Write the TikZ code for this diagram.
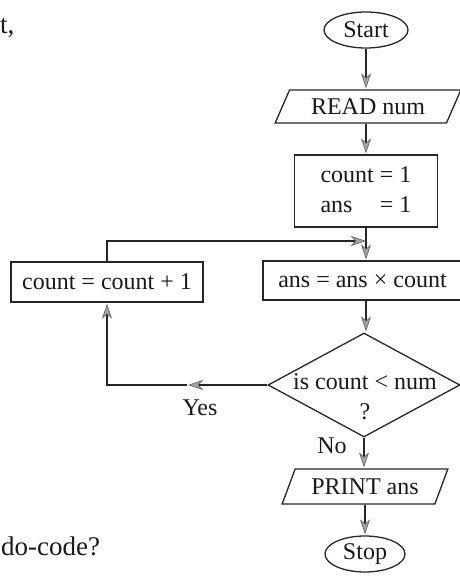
\documentclass[tikz,border=0pt]{standalone}
\usepackage{fontspec}
\setmainfont{Liberation Serif}
\usetikzlibrary{shapes.geometric,arrows.meta}
\begin{document}
\begin{tikzpicture}[x=1pt,y=-1pt,
  txt/.style={font=\fontsize{24}{30}\selectfont, text=black!90},
  flow/.style={draw=black!85, line width=1.3pt, shorten >=1pt,
    -{Stealth[length=15pt,width=10pt,inset=4.5pt,fill=gray!70,color=black!60,line width=0.7pt]}},
  box/.style={draw=black!85, line width=1.3pt, rectangle, inner sep=0pt, txt},
  term/.style={draw=black!85, line width=1.3pt, ellipse, inner sep=0pt, txt},
  io/.style={draw=black!85, line width=1.3pt, trapezium, trapezium left angle=57,
    trapezium right angle=123, trapezium stretches=true, inner sep=0pt, txt},
  dec/.style={draw=black!85, line width=1.3pt, diamond, inner sep=0pt},
  side/.style={font=\fontsize{27}{32}\selectfont, text=black!90, inner sep=0pt, anchor=west}]

\useasboundingbox (0,0) rectangle (459,576);

% surrounding text fragments
\node[side] (tfrag) at (0,28) {t,};
\node[side] (dfrag) at (1,546) {do-code?};

% nodes
\node[term, minimum width=84, minimum height=36] (start) at (366,30) {Start};
\node[io, minimum width=186, minimum height=33] (read) at (368,106.5) {READ num};
\node[box, minimum width=143, minimum height=72] (init) at (366,191)
  {\begin{tabular}{@{}l@{\ }l@{}}count & = 1\\ ans & = 1\end{tabular}};
\node[box, minimum width=199, minimum height=39] (ans) at (362.5,280.5) {ans = ans × count};
\node[box, minimum width=192, minimum height=40] (inc) at (107,282) {count = count + 1};
\node[dec, minimum width=192, minimum height=104] (dia) at (364,385) {};
\node[txt, align=center, inner sep=0pt] (qtxt) at (365,397) {is count < num\\?};
\node[io, minimum width=166, minimum height=35, trapezium left angle=58, trapezium right angle=122] (print) at (365,486.5) {PRINT ans};
\node[term, minimum width=80, minimum height=36] (stop) at (365,554) {Stop};

\node[txt, inner sep=0pt] (yes) at (200,408) {Yes};
\node[txt, inner sep=0pt] (no) at (332,446) {No};

% helper coordinates
\coordinate (merge) at (367,241);
\coordinate (yesmid) at (187,385);
\coordinate (yescorner) at (107,385);

% connectors
\draw[flow] (start.south) -- (start.south |- read.north);
\draw[flow] (start.south |- read.south) -- (init.north);
\draw[flow] (init.south) -- (init.south |- ans.north);
\draw[flow] (inc.north) |- (merge);
\draw[flow] (init.south |- ans.south) -- (init.south |- dia.north);
\draw[flow] (dia.west) -- (yesmid);
\draw[flow] (yesmid) -- (yescorner) -- (inc.south);
\draw[flow] (dia.south) -- (dia.south |- print.north);
\draw[flow] (print.south -| stop.north) -- (stop.north);
\end{tikzpicture}
\end{document}
